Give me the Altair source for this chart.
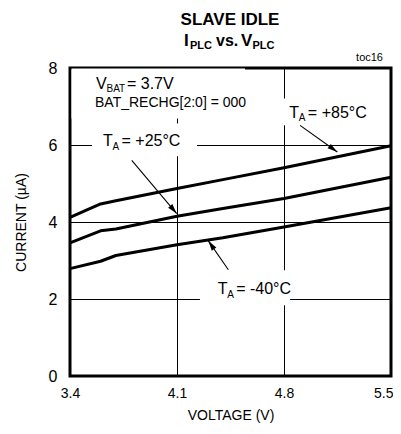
import math
import altair as alt
import pandas as pd

# ---------------- data ----------------
voltage = [3.4, 3.6, 3.7, 4.1, 4.4, 4.8, 5.5]
i_m40 = [2.79, 2.98, 3.13, 3.41, 3.59, 3.87, 4.37]
i_p25 = [3.46, 3.77, 3.82, 4.15, 4.35, 4.61, 5.16]
i_p85 = [4.12, 4.47, 4.55, 4.87, 5.10, 5.41, 5.98]
series_names = ["-40", "+25", "+85"]

x_ticks = [3.4, 4.1, 4.8, 5.5]
y_ticks = [0, 2, 4, 6, 8]

# annotation arrows: (tail x, tail y, tip x, tip y) in data units
arrow_tail_x = [3.804, 4.905, 4.436]
arrow_tail_y = [5.60, 6.51, 2.76]
arrow_tip_x = [4.098, 5.149, 4.305]
arrow_tip_y = [4.22, 5.82, 3.51]

# white label backgrounds (data units)
box_x1 = [3.41, 3.544, 4.80, 4.25]
box_x2 = [4.545, 4.231, 5.30, 4.84]
box_y1 = [6.69, 5.71, 6.51, 1.84]
box_y2 = [7.99, 6.56, 7.21, 2.75]

W, H = 321, 308
FONT = "Liberation Sans, Arial, sans-serif"
XDOM = [3.4, 5.5]
YDOM = [0, 8]

xs = alt.Scale(domain=XDOM, nice=False, zero=False)
ys = alt.Scale(domain=YDOM, nice=False, zero=True)

rows = []
for name, vals in zip(series_names, [i_m40, i_p25, i_p85]):
    for v, c in zip(voltage, vals):
        rows.append({"x": v, "y": c, "T": name})
df = pd.DataFrame(rows)

xaxis = alt.Axis(values=x_ticks, format=".1f", grid=True, gridColor="black", gridWidth=1,
                 gridOpacity=1, domain=False, ticks=False, tickSize=0, labelPadding=10,
                 labelFlush=False,
                 labelAlign={"condition": {"test": "datum.value >= 5.5", "value": "right"},
                             "value": "center"},
                 labelOffset={"condition": {"test": "datum.value >= 5.5", "value": 2},
                              "value": 0},
                 labelFont=FONT, labelFontSize=14, labelColor="black",
                 title="VOLTAGE (V)", titleFont=FONT, titleFontSize=14, titleFontWeight="normal",
                 titleColor="black", titlePadding=8)
yaxis = alt.Axis(values=y_ticks, format="d", grid=True, gridColor="black", gridWidth=1,
                 gridOpacity=1, domain=False, ticks=False, tickSize=0, labelPadding=13,
                 labelFont=FONT, labelFontSize=16, labelColor="black",
                 title="CURRENT (µA)", titleFont=FONT, titleFontSize=14, titleFontWeight="normal",
                 titleColor="black", titlePadding=20)

# white boxes behind annotation text
boxes = pd.DataFrame({"x": box_x1, "x2": box_x2, "y": box_y1, "y2": box_y2})
box_layer = alt.Chart(boxes).mark_rect(fill="white", strokeWidth=0).encode(
    x=alt.X("x:Q", scale=xs, axis=xaxis), x2="x2:Q",
    y=alt.Y("y:Q", scale=ys, axis=yaxis), y2="y2:Q")

lines = alt.Chart(df).mark_line(color="black", strokeWidth=3, strokeJoin="round").encode(
    x=alt.X("x:Q", scale=xs),
    y=alt.Y("y:Q", scale=ys),
    detail="T:N")

# arrows
ppx = W / (XDOM[1] - XDOM[0])
ppy = H / (YDOM[1] - YDOM[0])
angles = []
for tx, ty, hx, hy in zip(arrow_tail_x, arrow_tail_y, arrow_tip_x, arrow_tip_y):
    dx = (hx - tx) * ppx
    dy = -(hy - ty) * ppy
    angles.append(math.degrees(math.atan2(dx, -dy)) % 360)
arrows = pd.DataFrame({"x": arrow_tail_x, "y": arrow_tail_y, "x2": arrow_tip_x,
                       "y2": arrow_tip_y, "ang": angles})
arrow_lines = alt.Chart(arrows).mark_rule(color="black", strokeWidth=1.1).encode(
    x=alt.X("x:Q", scale=xs), y=alt.Y("y:Q", scale=ys),
    x2="x2:Q", y2="y2:Q")
heads = alt.Chart(arrows).mark_point(shape="M0,0 L-0.55,2 L0.55,2 Z", filled=True,
                                     color="black", opacity=1, size=100, strokeWidth=0).encode(
    x=alt.X("x2:Q", scale=xs), y=alt.Y("y2:Q", scale=ys),
    angle=alt.Angle("ang:Q", scale=None))


def dtext(txt, xv, yv, size, dx=0, dy=0):
    d = pd.DataFrame({"x": [xv], "y": [yv], "t": [txt]})
    return alt.Chart(d).mark_text(font=FONT, fontSize=size, align="left", baseline="alphabetic",
                                  color="black", dx=dx, dy=dy).encode(
        x=alt.X("x:Q", scale=xs), y=alt.Y("y:Q", scale=ys), text="t:N")


def ptext(txt, px, py, size, weight="normal", align="left"):
    d = pd.DataFrame({"t": [txt]})
    return alt.Chart(d).mark_text(font=FONT, fontSize=size, fontWeight=weight, align=align,
                                  baseline="alphabetic", color="black").encode(
        x=alt.value(px), y=alt.value(py), text="t:N")


MAIN, SUB = 16, 10
annot = [
    dtext("V", 3.570, 7.465, MAIN), dtext("BAT", 3.570, 7.465, SUB, dx=10.5, dy=3.5),
    dtext("= 3.7V", 3.570, 7.465, MAIN, dx=31),
    dtext("BAT_RECHG[2:0] = 000", 3.5636, 6.987, 14),
]
for ax, ay, rest in [(3.616, 5.97, "= +25°C"), (4.835, 6.71, "= +85°C"), (4.366, 2.12, "= -40°C")]:
    annot += [dtext("T", ax, ay, MAIN), dtext("A", ax, ay, SUB, dx=9.5, dy=3.5),
              dtext(rest, ax, ay, MAIN, dx=18.5)]

titles = [
    ptext("SLAVE IDLE", 160, -43, 17, "bold", "center"),
    ptext("I", 114, -22, 17, "bold"),
    ptext("PLC", 120, -19, 11, "bold"),
    ptext("vs.", 146, -22, 16, "bold"),
    ptext("V", 171, -22, 17, "bold"),
    ptext("PLC", 182.5, -19, 11, "bold"),
    ptext("toc16", 313, -7.5, 11, "normal", "right"),
]

chart = alt.layer(box_layer, *annot, lines, arrow_lines, heads, *titles).properties(
    width=W, height=H,
    autosize=alt.AutoSizeParams(type="none"),
    padding={"left": 62, "top": 60, "right": 2, "bottom": 48},
).configure(background="white").configure_view(stroke="black", strokeWidth=3)

chart.save("out.html", embed_options={"renderer": "svg", "actions": False})
